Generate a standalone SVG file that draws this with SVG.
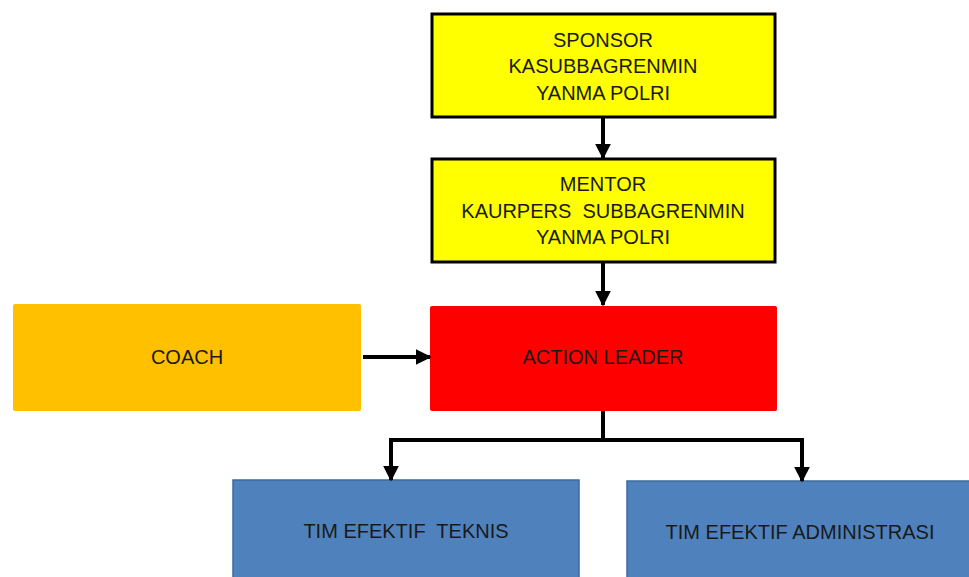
<svg xmlns="http://www.w3.org/2000/svg" width="969" height="577" viewBox="0 0 969 577">
<style>
text{font-family:"Liberation Sans",Arial,sans-serif;font-size:20px;fill:#1a1a1a;text-anchor:middle}
.y{fill:#FFFF00;stroke:#000;stroke-width:3}
.b{fill:#4F81BD;stroke:#3A6A9E;stroke-width:1.5}
.c{fill:none;stroke:#000;stroke-width:4}
</style>
<defs>
<marker id="ah" markerWidth="4" markerHeight="4" refX="3.6" refY="2" orient="auto" markerUnits="strokeWidth">
<path d="M0,0 L4,2 L0,4 z" fill="#000"/>
</marker>
</defs>
<rect width="969" height="577" fill="#fff"/>
<g id="sponsor">
<rect class="y" x="432" y="14" width="343" height="103"/>
<text x="603" y="47">SPONSOR</text>
<text x="603" y="73">KASUBBAGRENMIN</text>
<text x="603" y="100">YANMA POLRI</text>
</g>
<g id="mentor">
<rect class="y" x="432" y="159" width="343" height="103"/>
<text x="603" y="191">MENTOR</text>
<text x="603" y="218">KAURPERS&#160; SUBBAGRENMIN</text>
<text x="603" y="244">YANMA POLRI</text>
</g>
<g id="coach">
<rect x="13" y="304" width="348" height="107" rx="2" fill="#FFC000"/>
<text x="187" y="364">COACH</text>
</g>
<g id="action-leader">
<rect x="430" y="306" width="347" height="105" rx="2" fill="#FF0000"/>
<text x="603" y="364">ACTION LEADER</text>
</g>
<g id="tim-teknis">
<rect class="b" x="233" y="480" width="346" height="100"/>
<text x="406" y="538">TIM EFEKTIF&#160; TEKNIS</text>
</g>
<g id="tim-administrasi">
<rect class="b" x="627" y="481" width="345" height="100"/>
<text x="800" y="539">TIM EFEKTIF ADMINISTRASI</text>
</g>
<g id="connectors">
<line class="c" x1="603" y1="117" x2="603" y2="158" marker-end="url(#ah)"/>
<line class="c" x1="603" y1="262" x2="603" y2="305" marker-end="url(#ah)"/>
<line class="c" x1="363" y1="357" x2="430" y2="357" marker-end="url(#ah)"/>
<polyline class="c" points="603,411 603,440 391,440 391,480" marker-end="url(#ah)"/>
<polyline class="c" points="603,440 802,440 802,481" marker-end="url(#ah)"/>
</g>
</svg>
